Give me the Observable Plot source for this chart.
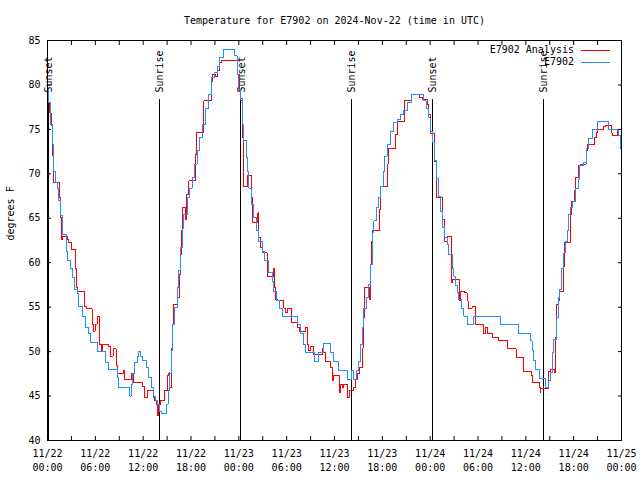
<!DOCTYPE html>
<html>
<head>
<meta charset="utf-8">
<script src="https://cdn.jsdelivr.net/npm/d3@7"></script>
<script src="https://cdn.jsdelivr.net/npm/@observablehq/plot@0.6"></script>
<style>
  html, body { margin: 0; padding: 0; background: #fff; }
  #chart { position: relative; width: 640px; height: 480px; }
  svg { display: block; }
</style>
</head>
<body>
<div id="chart"></div>
<script>
// Hours since 2024-11-22 00:00 UTC, temperature (°F)
const analysis = [
[0.00,78.0],[0.31,76.8],[0.53,75.4],[0.66,72.0],[0.79,69.0],[1.47,67.3],[1.63,65.1],[1.72,62.6],[1.84,63.0],[2.47,62.6],[2.67,62.3],[2.97,61.5],[3.51,59.4],[3.64,57.2],[3.80,56.8],[4.64,55.1],[4.85,54.8],[5.61,53.1],[5.73,52.3],[5.96,53.1],[6.23,54.0],[6.56,50.8],[6.74,50.1],[6.86,50.8],[7.65,50.6],[7.90,49.5],[8.24,50.3],[8.62,48.4],[8.82,47.5],[9.50,47.9],[9.66,46.9],[10.54,47.5],[10.75,46.5],[11.88,46.1],[12.17,44.8],[12.51,45.6],[13.26,44.8],[13.46,44.5],[13.67,44.1],[13.76,42.8],[13.96,44.1],[14.17,44.5],[14.71,45.6],[15.02,47.3],[15.22,47.6],[15.34,46.0],[15.52,50.4],[15.72,53.1],[15.84,55.3],[16.27,56.1],[16.56,58.7],[16.68,60.9],[16.81,63.6],[16.90,66.2],[17.31,64.9],[17.44,67.7],[17.72,69.2],[18.57,72.2],[18.65,74.6],[19.61,78.2],[20.53,80.4],[20.74,81.2],[21.07,81.0],[21.36,81.6],[21.58,82.5],[21.79,82.7],[23.87,81.2],[24.08,79.3],[24.27,78.2],[24.42,77.4],[24.50,74.1],[24.62,68.6],[25.05,69.8],[25.55,67.3],[25.68,64.5],[26.38,65.6],[26.51,62.8],[26.72,61.7],[26.93,61.1],[27.56,58.5],[28.39,59.4],[28.51,57.2],[28.60,55.9],[28.81,55.7],[29.64,54.9],[29.85,54.4],[30.07,54.9],[30.61,53.3],[31.32,53.9],[31.40,52.7],[31.65,52.3],[32.36,52.7],[32.65,50.8],[32.78,50.1],[32.99,50.6],[33.41,49.7],[34.46,50.4],[34.66,49.9],[34.87,48.9],[35.50,48.2],[35.71,46.7],[35.91,47.3],[36.63,45.4],[36.75,46.3],[36.97,46.0],[37.17,46.3],[37.59,44.8],[37.92,45.6],[38.42,46.0],[38.64,46.9],[38.92,47.5],[39.18,48.2],[39.48,50.4],[39.60,53.8],[39.77,57.2],[40.43,55.9],[40.52,59.8],[40.64,62.4],[40.81,63.6],[41.65,66.0],[41.77,68.6],[42.61,71.1],[42.74,72.8],[43.65,74.4],[43.87,75.9],[44.78,78.2],[45.66,78.9],[46.66,78.6],[47.00,78.4],[47.63,77.8],[47.83,76.7],[48.04,74.5],[48.58,71.4],[48.80,67.3],[49.59,64.9],[49.80,62.4],[50.14,63.0],[50.68,57.8],[50.84,58.1],[51.68,55.7],[51.81,56.8],[52.35,56.6],[52.65,55.7],[52.77,54.9],[53.27,55.1],[53.69,53.1],[54.10,53.0],[54.73,52.0],[54.94,52.7],[55.23,52.0],[55.78,51.6],[56.61,51.2],[57.74,50.3],[58.80,49.3],[59.75,47.8],[60.72,47.3],[60.88,46.5],[61.72,46.0],[61.78,45.4],[61.90,45.8],[62.81,47.8],[63.10,48.0],[63.60,47.6],[63.72,51.6],[63.85,55.3],[64.06,55.7],[64.23,56.8],[64.69,59.6],[64.85,62.3],[65.65,65.4],[65.73,66.9],[66.15,68.1],[66.23,69.6],[66.65,70.9],[66.86,71.1],[67.57,72.6],[67.70,73.3],[68.66,74.1],[68.87,74.6],[69.03,75.0],[69.78,75.3],[69.99,75.4],[70.71,74.6],[70.84,74.3],[71.50,75.0],[72.00,75.0]
];
const e7902 = [
[0.00,79.5],[0.16,78.0],[0.38,75.6],[0.59,73.3],[0.79,70.3],[1.00,69.0],[1.22,68.3],[1.42,67.0],[1.63,65.3],[1.84,63.2],[2.38,61.3],[2.55,60.2],[2.89,59.3],[3.17,58.3],[3.39,57.0],[3.73,56.5],[3.93,55.1],[4.35,54.0],[4.77,52.7],[5.18,52.0],[5.39,51.0],[6.31,50.0],[7.28,48.8],[7.69,48.0],[8.74,47.1],[8.94,46.0],[10.32,45.0],[10.50,46.3],[10.70,47.5],[10.95,48.8],[11.25,49.5],[11.45,50.0],[11.67,49.5],[11.88,49.0],[12.42,48.2],[12.71,47.1],[13.01,46.0],[13.26,45.0],[13.55,44.5],[13.84,44.1],[14.09,43.3],[14.26,43.0],[14.89,44.1],[15.12,45.6],[15.34,47.5],[15.55,50.1],[15.72,53.1],[15.97,55.0],[16.27,57.2],[16.47,59.1],[16.68,61.7],[16.90,63.9],[17.10,65.4],[17.52,67.3],[17.81,68.4],[18.15,69.6],[18.44,71.1],[18.78,72.6],[19.10,74.1],[19.41,75.6],[19.82,77.4],[20.23,78.9],[20.53,80.8],[20.95,81.4],[21.29,82.1],[21.61,83.1],[22.12,84.0],[23.50,83.3],[23.77,81.2],[23.96,79.5],[24.15,78.5],[24.42,75.6],[24.62,73.7],[24.96,71.8],[25.13,70.3],[25.25,68.4],[25.55,66.6],[25.88,65.1],[26.22,63.6],[26.51,62.4],[26.93,61.3],[27.22,60.2],[27.76,58.9],[28.22,57.9],[28.39,56.8],[28.73,55.7],[29.10,54.9],[29.44,54.0],[31.40,53.1],[31.74,52.0],[32.08,50.8],[32.36,49.9],[33.49,48.9],[34.03,49.9],[34.58,50.9],[35.50,49.9],[35.88,48.9],[36.54,47.9],[37.59,46.9],[38.10,47.9],[38.42,46.9],[38.76,47.9],[39.05,48.9],[39.26,50.8],[39.48,52.7],[39.68,54.9],[40.02,56.1],[40.30,57.6],[40.52,59.8],[40.73,63.4],[40.93,64.7],[41.23,66.2],[41.56,67.3],[41.77,68.6],[42.11,70.3],[42.31,72.0],[42.61,73.3],[43.03,74.8],[43.44,75.8],[43.87,76.1],[44.28,76.7],[44.69,77.1],[45.12,78.0],[45.66,78.9],[47.20,78.2],[47.48,77.4],[47.73,76.3],[47.98,74.8],[48.29,73.5],[48.55,71.5],[48.80,69.5],[49.05,67.5],[49.30,65.8],[49.55,64.0],[49.80,62.8],[50.14,62.1],[50.34,60.9],[50.77,59.4],[50.97,58.5],[51.18,57.4],[51.39,56.6],[51.59,55.9],[51.93,54.9],[52.22,54.0],[52.72,53.0],[53.40,54.0],[56.82,53.0],[59.12,52.0],[60.59,51.2],[60.80,50.1],[61.00,49.0],[61.21,48.0],[61.75,47.0],[62.47,46.0],[62.88,46.7],[63.10,47.6],[63.31,49.9],[63.51,51.4],[63.81,53.8],[64.06,56.1],[64.23,57.0],[64.44,59.3],[64.77,61.1],[64.98,62.4],[65.19,63.6],[65.39,65.4],[65.61,66.2],[65.90,66.9],[66.23,68.3],[66.57,69.4],[66.77,70.9],[67.27,71.3],[67.57,72.9],[67.90,74.0],[68.40,75.0],[68.95,75.9],[70.41,75.0],[71.66,74.3],[71.88,72.9],[72.00,72.0]
];
const sunEvents = [[0.13,"Sunset"],[14.09,"Sunrise"],[24.27,"Sunset"],[38.17,"Sunrise"],[48.34,"Sunset"],[62.26,"Sunrise"]];
const xMajorHours = [0,6,12,18,24,30,36,42,48,54,60,66,72];
const xMinorHours = [0,3,6,9,12,15,18,21,24,27,30,33,36,39,42,45,48,51,54,57,60,63,66,69,72];
const yTicks = [40,45,50,55,60,65,70,75,80,85];
const seriesNames = ["E7902 Analysis","E7902"];
const seriesColors = ["#ff0000","#1e90ff"];
const titleText = "Temperature for E7902 on 2024-Nov-22 (time in UTC)";
const yLabel = "degrees F";

const base = Date.UTC(2024, 10, 22);
const toDate = h => new Date(base + h * 3600e3);
const toRows = arr => arr.map(([h, t]) => ({time: toDate(h), temp: t}));
const fmt = d3.utcFormat("%m/%d\n%H:%M");

const chart = Plot.plot({
  width: 640, height: 480,
  marginLeft: 47, marginRight: 19, marginTop: 40, marginBottom: 40,
  style: {fontFamily: "DejaVu Sans Mono", fontSize: "10px", background: "white", color: "black"},
  x: {type: "utc", domain: [toDate(0), toDate(72)], label: null},
  y: {domain: [40, 85], label: null},
  marks: [
    Plot.ruleX(sunEvents, {x: d => toDate(d[0]), insetTop: 59, stroke: "black", strokeWidth: 1, shapeRendering: "crispEdges"}),
    Plot.text(sunEvents, {x: d => toDate(d[0]), text: d => d[1], frameAnchor: "top", dy: 52, dx: -3.5, rotate: -90, textAnchor: "start", fill: "black"}),
    Plot.line(toRows(analysis), {x: "time", y: "temp", stroke: seriesColors[0], strokeWidth: 1, curve: "step-after", shapeRendering: "crispEdges"}),
    Plot.line(toRows(e7902), {x: "time", y: "temp", stroke: seriesColors[1], strokeWidth: 1, curve: "step-after", shapeRendering: "crispEdges"}),
    Plot.axisX({anchor: "bottom", ticks: xMinorHours.map(toDate), tickSize: -4, tickFormat: () => "", label: null}),
    Plot.axisX({anchor: "top", ticks: xMinorHours.map(toDate), tickSize: -4, tickFormat: () => "", label: null}),
    Plot.axisX({anchor: "bottom", ticks: xMajorHours.map(toDate), tickSize: 0, tickPadding: 7, tickFormat: fmt, lineHeight: 1.35, label: null, fill: "black"}),
    Plot.axisY({anchor: "left", ticks: yTicks, tickSize: -4, tickFormat: () => "", label: null}),
    Plot.axisY({anchor: "right", ticks: yTicks, tickSize: -4, tickFormat: () => "", label: null}),
    Plot.axisY({anchor: "left", ticks: yTicks, tickSize: 0, tickPadding: 7, label: null, fill: "black"}),
    Plot.text([yLabel], {frameAnchor: "left", dx: -37, rotate: -90, fill: "black"}),
    Plot.text([titleText], {frameAnchor: "top", dy: -24, fill: "black"}),
    Plot.frame({stroke: "black", strokeWidth: 1, shapeRendering: "crispEdges"})
  ]
});
document.getElementById("chart").appendChild(chart);

// Legend (top right, inside the frame)
const svg = d3.select(chart);
const lg = svg.append("g").attr("font-family", "DejaVu Sans Mono").attr("font-size", 10);
seriesNames.forEach((name, i) => {
  const y = 50 + i * 12;
  lg.append("text").attr("x", 574).attr("y", y).attr("dy", "0.32em")
    .attr("text-anchor", "end").attr("fill", "black").text(name);
  lg.append("line").attr("x1", 581).attr("x2", 610).attr("y1", y + 0.5).attr("y2", y + 0.5)
    .attr("stroke", seriesColors[i]).attr("stroke-width", 1).attr("shape-rendering", "crispEdges");
});
</script>
</body>
</html>
